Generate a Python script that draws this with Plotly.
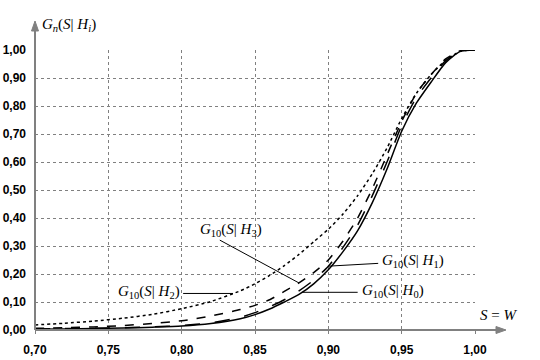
import numpy as np
import plotly.graph_objects as go

s_vals = [0.70, 0.72, 0.74, 0.76, 0.78, 0.80, 0.82, 0.84, 0.85, 0.86, 0.87, 0.88,
          0.89, 0.90, 0.91, 0.92, 0.93, 0.94, 0.95, 0.96, 0.97, 0.98, 0.99, 1.00]

g_h0 = [0.003, 0.004, 0.005, 0.007, 0.010, 0.014, 0.023, 0.040, 0.055, 0.075, 0.100, 0.127,
        0.165, 0.215, 0.280, 0.355, 0.455, 0.575, 0.710, 0.810, 0.885, 0.955, 0.995, 1.000]
g_h1 = [0.004, 0.005, 0.006, 0.008, 0.011, 0.016, 0.026, 0.045, 0.062, 0.083, 0.108, 0.140,
        0.178, 0.228, 0.295, 0.375, 0.480, 0.600, 0.730, 0.830, 0.900, 0.962, 0.996, 1.000]
g_h2 = [0.018, 0.024, 0.032, 0.042, 0.056, 0.076, 0.102, 0.140, 0.165, 0.195, 0.230, 0.270,
        0.315, 0.360, 0.414, 0.480, 0.558, 0.650, 0.755, 0.845, 0.912, 0.963, 0.995, 1.000]
g_h3 = [0.006, 0.008, 0.011, 0.016, 0.023, 0.033, 0.050, 0.073, 0.088, 0.108, 0.138, 0.168,
        0.205, 0.250, 0.318, 0.400, 0.505, 0.625, 0.745, 0.845, 0.912, 0.968, 0.997, 1.000]

x_tickvals = [0.70, 0.75, 0.80, 0.85, 0.90, 0.95, 1.00]
x_ticktext = ["0,70", "0,75", "0,80", "0,85", "0,90", "0,95", "1,00"]
y_tickvals = [0.0, 0.1, 0.2, 0.3, 0.4, 0.5, 0.6, 0.7, 0.8, 0.9, 1.0]
y_ticktext = ["0,00", "0,10", "0,20", "0,30", "0,40", "0,50", "0,60", "0,70", "0,80", "0,90", "1,00"]

series = [
    ("H0", g_h0, "solid"),
    ("H1", g_h1, "longdash"),
    ("H2", g_h2, "dot"),
    ("H3", g_h3, "dash"),
]

fig = go.Figure()
for name, g, dash in series:
    fig.add_trace(go.Scatter(x=s_vals, y=g, mode="lines", name=name,
                             line=dict(color="black", width=1.5, dash=dash, shape="spline", smoothing=0.6),
                             showlegend=False, hoverinfo="skip"))

GRAY = "#808080"
SERIF = "Liberation Serif"

def lab(i):
    return "<i>G</i><sub>10</sub>(<i>S</i>| <i>H</i><sub>%d</sub>)" % i

def curve_at(g, s):
    return float(np.interp(s, s_vals, g))

leaders = [
    (g_h3, 0.880, 0.826, 0.321),
    (g_h1, 0.900, 0.934, 0.238),
]
for g, s_c, s_l, g_l in leaders:
    fig.add_shape(type="line", x0=s_l, y0=g_l, x1=s_c, y1=curve_at(g, s_c),
                  line=dict(color="black", width=1))
y0v = curve_at(g_h0, 0.882)
fig.add_shape(type="line", x0=0.882, y0=y0v, x1=0.920, y1=y0v, line=dict(color="black", width=1))
y2v = curve_at(g_h2, 0.835)
fig.add_shape(type="line", x0=0.801, y0=y2v, x1=0.835, y1=y2v, line=dict(color="black", width=1))

annots = [
    dict(x=0.8337, y=0.357, text=lab(3), xanchor="center", yanchor="middle"),
    dict(x=0.9355, y=0.247, text=lab(1), xanchor="left", yanchor="middle"),
    dict(x=0.9215, y=y0v + 0.003, text=lab(0), xanchor="left", yanchor="middle"),
    dict(x=0.8005, y=y2v + 0.006, text=lab(2), xanchor="right", yanchor="middle"),
]
for a in annots:
    fig.add_annotation(xref="x", yref="y", showarrow=False,
                       font=dict(family=SERIF, size=15, color="black"), **a)

fig.add_annotation(xref="paper", yref="paper", x=(40 - 35) / 440, y=(330 - 25) / 280,
                   text="<i>G</i><sub><i>n</i></sub>(<i>S</i>| <i>H</i><sub><i>i</i></sub>)",
                   showarrow=False, xanchor="left", yanchor="middle",
                   font=dict(family=SERIF, size=15, color="black"))
fig.add_annotation(xref="paper", yref="paper", x=(478 - 35) / 440, y=(330 - 315) / 280,
                   text="<i>S</i> = <i>W</i>", showarrow=False, xanchor="left", yanchor="middle",
                   font=dict(family=SERIF, size=15, color="black"))

px = lambda p: (p - 35) / 440
py = lambda p: (330 - p) / 280
fig.add_shape(type="line", xref="paper", yref="paper", x0=0, y0=0, x1=px(498), y1=0,
              line=dict(color=GRAY, width=2))
fig.add_shape(type="path", xref="paper", yref="paper",
              path="M %f,%f L %f,%f L %f,%f Z" % (px(506), 0, px(496), py(333.5), px(496), py(326.5)),
              fillcolor=GRAY, line=dict(color=GRAY, width=1))
fig.add_shape(type="line", xref="paper", yref="paper", x0=0, y0=0, x1=0, y1=py(29),
              line=dict(color=GRAY, width=2))
fig.add_shape(type="path", xref="paper", yref="paper",
              path="M %f,%f L %f,%f L %f,%f Z" % (0, py(21), px(31.5), py(31), px(38.5), py(31)),
              fillcolor=GRAY, line=dict(color=GRAY, width=1))

tickfont = dict(family="Liberation Sans", size=12, color="black", weight="bold")
fig.update_xaxes(range=[0.70, 1.00], tickvals=x_tickvals, ticktext=x_ticktext, automargin=False,
                 showgrid=True, gridcolor=GRAY, griddash="3px,3px", gridwidth=1,
                 zeroline=False, showline=False, ticks="outside", ticklen=3, tickcolor=GRAY,
                 tickfont=tickfont, ticklabelstandoff=6)
fig.update_yaxes(range=[0.0, 1.00], tickvals=y_tickvals, ticktext=y_ticktext, automargin=False,
                 showgrid=True, gridcolor=GRAY, griddash="3px,3px", gridwidth=1,
                 zeroline=False, showline=False, ticks="", tickfont=tickfont, ticklabelstandoff=8)

fig.update_layout(width=540, height=360, margin=dict(l=35, r=65, t=50, b=30),
                  paper_bgcolor="white", plot_bgcolor="white")

fig.write_html("out.html", config={"displayModeBar": False, "staticPlot": True},
               post_script="document.body.style.margin='0px';document.body.style.overflow='hidden';")
